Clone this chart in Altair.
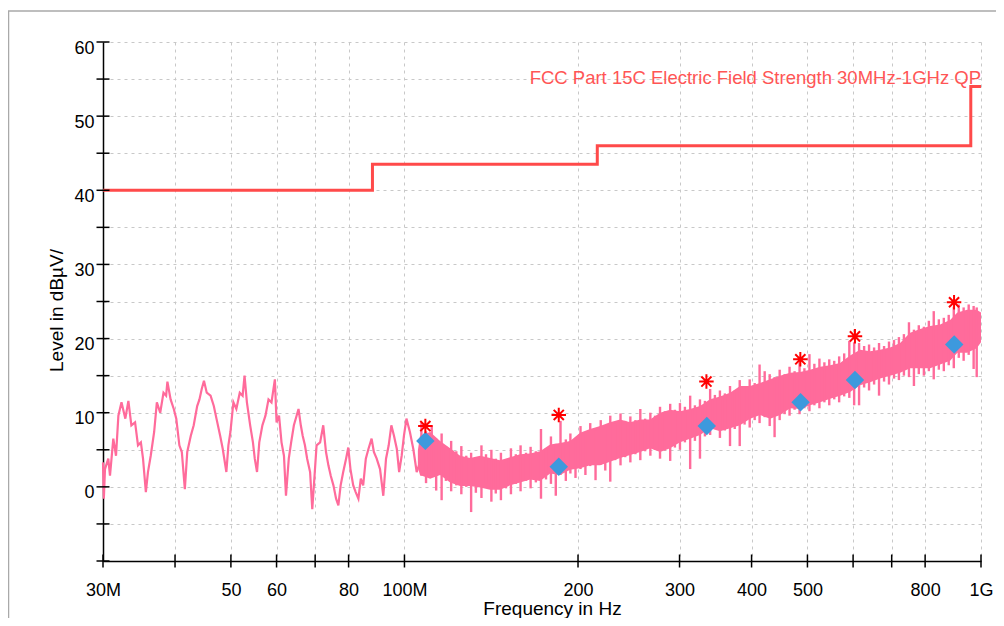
import altair as alt
import pandas as pd

# ---------------- data ----------------
# low-frequency part of the measured trace (MHz, dBµV)
trace_mhz = [30.0, 30.1, 30.24, 30.64, 30.85, 31.26, 31.6, 31.9, 32.3, 32.8, 33.2, 33.6, 34.1, 34.5,
             34.9, 35.2, 35.6, 35.9, 36.3, 36.8, 37.2, 37.7, 38.2, 38.6, 38.8, 39.3, 39.8, 40.2,
             40.7, 41.1, 41.6, 42.0, 42.6, 43.1, 43.7, 44.1, 44.5, 44.9, 45.4, 46.1, 46.7, 47.2,
             47.9, 48.4, 49.1, 49.5, 49.9, 50.5, 51.1, 51.8, 52.4, 52.8, 53.3, 54.0, 54.6, 55.0,
             55.5, 56.0, 56.7, 57.4, 58.1, 58.8, 59.6, 60.0, 60.6, 61.2, 61.8, 62.3, 63.0, 63.6,
             64.3, 65.0, 65.5, 66.1, 66.6, 67.2, 67.8, 68.6, 69.2, 69.9, 70.4, 71.4, 72.3, 73.1,
             73.8, 74.5, 75.3, 76.1, 76.8, 77.5, 78.3, 79.2, 79.9, 80.6, 81.5, 82.3, 83.2, 84.0,
             84.8, 85.7, 86.6, 87.7, 88.5, 89.5, 90.7, 91.9, 92.9, 93.9, 94.9, 95.9, 97.0, 97.9,
             98.9, 99.8, 100.8, 102.2, 103.6, 105.0, 106.4]
trace_dbuv = [3.3, -1.6, 2.4, 3.8, 1.5, 6.5, 4.2, 9.6, 11.4, 9.2, 11.6, 8.3, 8.7, 5.6,
              6.0, 3.8, -0.7, 2.0, 4.2, 7.4, 11.4, 10.0, 12.7, 12.3, 14.2, 11.8, 10.5, 9.2,
              5.6, 4.7, -0.3, 4.7, 6.9, 8.3, 10.9, 11.8, 13.2, 14.3, 12.7, 12.3, 10.9, 9.2,
              6.9, 5.1, 2.0, 5.6, 7.4, 11.4, 10.5, 12.7, 12.3, 15.0, 11.4, 8.3, 6.0, 3.8,
              2.0, 6.0, 8.3, 9.6, 11.8, 11.4, 14.5, 8.7, 9.6, 6.0, 4.2, -1.2, 3.8, 6.0,
              8.3, 9.6, 10.5, 8.3, 6.9, 5.6, 3.8, 2.0, -3.0, 2.0, 5.6, 6.0, 8.3, 4.7,
              2.9, 1.5, 0.2, -1.6, -2.5, 0.2, 2.0, 3.8, 5.3, 2.4, 0.2, -0.7, -1.6, 1.1,
              0.2, 3.8, 5.1, 6.5, 4.7, 3.8, 2.4, -1.2, 3.8, 5.6, 8.3, 6.9, 5.1, 2.0,
              4.2, 6.9, 9.2, 7.4, 5.1, 2.0, 3.3]

# dense upper part of the trace: solid core (MHz, upper dBµV, lower dBµV)
band_mhz = [105.5, 106.4, 110.8, 115.3, 120.0, 124.9, 130.0, 135.3, 140.8, 146.5, 152.5, 158.7,
            165.2, 171.9, 178.9, 186.2, 193.8, 201.7, 209.9, 218.5, 227.3, 236.6, 246.3, 256.3,
            266.7, 277.6, 288.9, 300.6, 312.9, 325.6, 338.9, 352.7, 367.1, 382.0, 397.6, 413.8,
            430.7, 448.2, 466.5, 485.5, 505.3, 525.9, 547.3, 569.6, 592.8, 617.0, 642.1, 668.3,
            695.5, 723.9, 753.4, 784.1, 816.1, 849.3, 884.0, 910.0, 946.0, 983.0, 1000.0]
band_hi = [4.9, 6.9, 7.4, 6.2, 5.2, 4.2, 3.9, 4.2, 3.9, 3.6, 4.0, 4.4,
           4.5, 4.8, 5.7, 5.9, 6.2, 7.3, 7.8, 8.2, 8.7, 9.1, 8.7, 9.1,
           9.1, 10.0, 10.4, 10.2, 10.5, 10.9, 11.8, 12.2, 12.7, 13.6, 13.6, 14.0,
           14.5, 15.0, 15.4, 15.5, 15.8, 16.2, 16.4, 16.7, 17.7, 18.5, 18.3, 18.5,
           18.8, 19.4, 20.8, 21.3, 21.7, 21.9, 22.5, 23.5, 23.9, 23.9, 23.5]
band_lo = [2.6, 1.6, 1.1, 1.6, 0.6, 0.1, 0.1, -0.1, -0.4, -0.4, 0.2, 0.6,
           1.0, 0.8, 1.8, 1.6, 2.3, 2.5, 2.9, 2.9, 3.4, 3.9, 4.3, 4.7,
           5.2, 4.7, 5.2, 6.0, 6.5, 7.0, 7.9, 7.5, 7.9, 8.3, 9.2, 9.7,
           9.2, 9.7, 10.6, 10.5, 11.0, 11.4, 11.9, 12.3, 12.8, 13.7, 14.1, 14.6,
           15.0, 15.4, 16.0, 16.0, 16.0, 16.5, 17.0, 18.1, 18.1, 18.7, 19.5]

# individual vertical strokes of the dense part (MHz, top, bottom)
stroke_mhz = [107, 109, 111.5, 113.5, 116, 118, 120.5, 123, 125.5, 128, 130.5, 133, 136, 138.5,
              141.5, 144, 147, 150, 153, 156, 159, 162.5, 165.5, 169, 172.5, 176, 179.5, 183,
              186.5, 190.5, 194, 198, 202, 206, 210, 214.5, 219, 223, 227.5, 232, 237, 241.5,
              246.5, 251.5, 256.5, 261.5, 267, 272, 277.5, 283, 289, 294.5, 300.5, 306.5, 313,
              319, 325.5, 332, 339, 345.5, 352.5, 359.5, 367, 374, 381.5, 389, 397, 405, 413,
              421.5, 430, 438.5, 447.5, 456.5, 465.5, 475, 484.5, 494, 504, 514, 524.5, 535,
              545.5, 556.5, 567.5, 579, 591, 602.5, 614.5, 627, 639.5, 652.5, 665.5, 679, 692.5,
              706.5, 720.5, 735, 750, 765, 780, 796, 812, 828, 845, 862, 879, 897, 915, 933,
              952, 971, 983]
stroke_top = [8.6, 7.5, 8.3, 6.5, 7.2, 5.5, 6.2, 4.8, 5.5, 4.2, 4.6, 3.9, 5.6, 4.4,
              5.0, 3.8, 4.6, 3.6, 5.2, 4.4, 5.6, 4.6, 5.4, 4.8, 7.8, 5.2, 6.8, 5.8,
              8.9, 6.4, 7.2, 6.6, 8.2, 7.4, 8.6, 7.6, 9.0, 8.2, 9.6, 8.6, 9.9, 8.9,
              9.5, 9.0, 10.5, 9.2, 10.0, 9.6, 10.8, 10.2, 11.2, 10.4, 11.3, 10.8, 12.3,
              11.0, 11.8, 11.6, 13.2, 12.4, 13.0, 12.6, 13.6, 13.0, 14.4, 13.6, 14.5, 14.0, 16.5,
              15.6, 15.2, 14.8, 15.8, 15.2, 16.2, 15.6, 16.8, 16.0, 17.9, 16.6, 17.3, 16.8,
              17.2, 17.0, 17.6, 18.0, 19.7, 19.5, 19.4, 19.0, 19.2, 18.8, 19.4, 19.0, 19.6,
              19.8, 20.2, 20.6, 22.2, 21.2, 21.8, 21.6, 22.4, 23.7, 22.6, 22.8, 23.2, 24.3, 24.6, 24.2,
              24.6, 24.4, 24.2]
stroke_bottom = [1.5, 0.5, 2.0, -0.5, -1.8, 0.8, -0.6, 0.2, -1.0, 0.0, -3.4, -0.8, -1.5, 0.5,
                 -2.0, -0.9, -1.8, -0.2, -1.0, 0.4, -0.6, 0.8, -0.2, 0.6, -1.6, 1.0, 0.4, -1.2,
                 1.6, 0.8, 1.8, 1.2, 2.4, 1.6, 2.8, 0.9, 3.0, 2.2, 0.7, 3.6, 2.9, 4.0,
                 3.3, 4.4, 3.6, 4.8, 4.2, 5.0, 3.8, 4.9, 3.5, 5.3, 5.0, 6.0, 2.4,
                 6.2, 3.8, 6.8, 7.0, 7.8, 6.6, 7.6, 5.5, 7.8, 5.5, 8.4, 8.0, 9.0, 8.6,
                 9.4, 8.2, 6.7, 9.0, 9.8, 9.6, 10.4, 9.8, 10.6, 10.2, 11.0, 10.6, 11.4,
                 11.0, 11.8, 11.4, 12.2, 12.0, 11.0, 11.0, 13.4, 13.0, 13.8, 12.3, 14.2, 13.8,
                 14.6, 14.4, 15.0, 14.8, 13.6, 15.2, 15.0, 15.6, 14.5, 15.8, 15.6, 16.4, 16.0, 17.4, 17.0,
                 17.8, 15.9, 14.8]

# limit line FCC Part 15C
limit_mhz = [30, 88, 216, 960, 1000]
limit_dbuv = [40, 43.5, 46, 54, 54]
limit_label = "FCC Part 15C Electric Field Strength 30MHz-1GHz QP"

# final measurement points
qp_mhz = [108.7, 185.2, 334.5, 486.5, 604.5, 898.5]
qp_dbuv = [6.2, 2.7, 8.2, 11.4, 14.4, 19.2]
peak_mhz = [108.7, 185.2, 334.0, 486.0, 604.5, 898.0]
peak_dbuv = [8.2, 9.7, 14.2, 17.2, 20.3, 24.9]

# axes
x_ticks = [30, 40, 50, 60, 70, 80, 100, 200, 300, 400, 500, 600, 700, 800, 1000]
x_tick_text = [(30, "30M"), (50, "50"), (60, "60"), (80, "80"), (100, "100M"), (200, "200"),
               (300, "300"), (400, "400"), (500, "500"), (800, "800"), (1000, "1G")]
y_ticks = list(range(-10, 61, 5))

# ---------------- chart ----------------
FONT = "Liberation Sans"
PINK = "#ff6b9b"

x_label_expr = "".join(f"datum.value == {v} ? '{t}' : " for v, t in x_tick_text) + "''"

x_scale = alt.Scale(type="log", domain=[30, 1000], nice=False)
y_scale = alt.Scale(domain=[-10, 60], nice=False, zero=False)

x_axis = alt.Axis(values=x_ticks, labelExpr=x_label_expr, title="Frequency in Hz",
                  ticks=False, labelPadding=20, labelFontSize=18, labelFont=FONT,
                  labelColor="black", labelFlush=False, labelOverlap=False,
                  domainColor="black", domainWidth=1.5,
                  grid=True, gridColor="#c8c8c8", gridDash=[3, 4], gridWidth=1,
                  titleFont=FONT, titleFontSize=19, titleFontWeight="normal",
                  titleColor="black", titleX=449, titleY=53, titleBaseline="alphabetic")
y_axis = alt.Axis(values=y_ticks,
                  labelExpr="datum.value >= 0 && datum.value % 10 == 0 ? datum.value : ''",
                  title="Level in dBµV/", ticks=False, labelPadding=9, labelFontSize=18,
                  labelFont=FONT, labelColor="black", labelBaseline="top", labelOffset=-3,
                  labelOverlap=False, labelFlush=False,
                  domainColor="black", domainWidth=1.5,
                  grid=True, gridColor="#c8c8c8", gridDash=[3, 4], gridWidth=1,
                  titleFont=FONT, titleFontSize=19, titleFontWeight="normal",
                  titleColor="black", titleX=-41, titleY=268, titleAngle=270,
                  titleBaseline="alphabetic", titleAlign="center")


def X(field="mhz"):
    return alt.X(f"{field}:Q", scale=x_scale, axis=x_axis)


def Y(field="dbuv"):
    return alt.Y(f"{field}:Q", scale=y_scale, axis=y_axis)


trace_df = pd.DataFrame({"mhz": trace_mhz, "dbuv": trace_dbuv})
band_df = pd.DataFrame({"mhz": band_mhz, "hi": band_hi, "lo": band_lo})
stroke_df = pd.DataFrame({"mhz": stroke_mhz, "top": stroke_top, "bottom": stroke_bottom})
limit_df = pd.DataFrame({"mhz": limit_mhz, "dbuv": limit_dbuv})
label_df = pd.DataFrame({"mhz": [limit_mhz[-1]], "dbuv": [limit_dbuv[-1]], "text": [limit_label]})
qp_df = pd.DataFrame({"mhz": qp_mhz, "dbuv": qp_dbuv})
peak_df = pd.DataFrame({"mhz": peak_mhz, "dbuv": peak_dbuv})
xt_df = pd.DataFrame({"mhz": x_ticks, "dbuv": [-10] * len(x_ticks)})
yt_df = pd.DataFrame({"mhz": [30] * len(y_ticks), "dbuv": y_ticks})

frame = alt.Chart(pd.DataFrame({"k": [0]})).mark_rect(
    fillOpacity=0, stroke="#a9a9a9", strokeWidth=1.5
).encode(x=alt.value(-94.5), x2=alt.value(905), y=alt.value(-31), y2=alt.value(600))

band = alt.Chart(band_df).mark_area(color=PINK, opacity=1).encode(
    x=X(), y=Y("hi"), y2="lo:Q")
strokes = alt.Chart(stroke_df).mark_rule(color=PINK, strokeWidth=2.4).encode(
    x=X(), y=Y("top"), y2="bottom:Q")
trace = alt.Chart(trace_df).mark_line(color=PINK, strokeWidth=2.2).encode(x=X(), y=Y())
limit = alt.Chart(limit_df).mark_line(color="#ff4a4a", strokeWidth=3,
                                      interpolate="step-after").encode(x=X(), y=Y())
label = alt.Chart(label_df).mark_text(align="right", baseline="alphabetic", dy=-2,
                                      font=FONT, fontSize=18.5, color="#ff5555").encode(
    x=X(), y=Y(), text="text:N")
qp = alt.Chart(qp_df).mark_point(shape="diamond", filled=True, size=340,
                                 color="#3d99dd", opacity=1).encode(x=X(), y=Y())
peak = alt.Chart(peak_df).mark_point(
    shape="M-1,0L1,0M0,-1L0,1M-0.7,-0.7L0.7,0.7M-0.7,0.7L0.7,-0.7",
    filled=False, size=210, color="#ff0000", strokeWidth=2, opacity=1).encode(x=X(), y=Y())
xticks = alt.Chart(xt_df).mark_point(shape="M0,-1L0,1", filled=False, size=169,
                                     color="black", strokeWidth=1.5, opacity=1).encode(
    x=X(), y=Y())
yticks = alt.Chart(yt_df).mark_point(shape="M-1,0L1,0", filled=False, size=169,
                                     color="black", strokeWidth=1.5, opacity=1).encode(
    x=X(), y=Y())

chart = alt.layer(frame, band, strokes, trace, limit, label, qp, peak, xticks, yticks).properties(
    width=878, height=519,
    autosize=alt.AutoSizeParams(type="none"),
    padding={"left": 95, "top": 34, "right": 15, "bottom": 57},
    background="white",
).configure_view(strokeWidth=0)

chart.save("out.html", embed_options={"renderer": "svg", "actions": False})
